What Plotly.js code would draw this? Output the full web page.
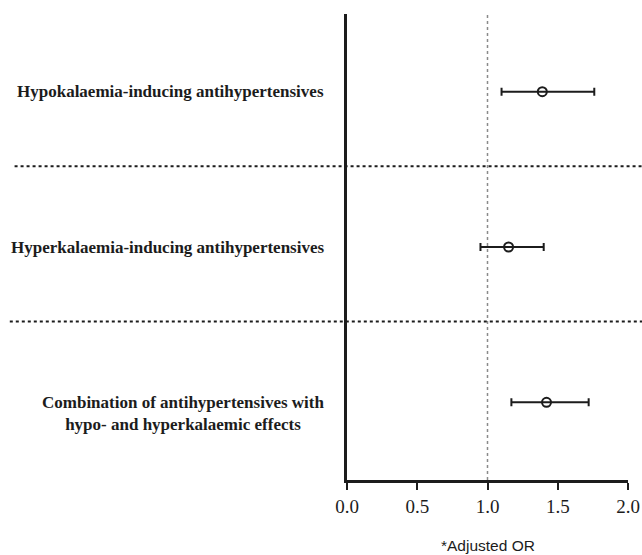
<!DOCTYPE html>
<html>
<head>
<meta charset="utf-8">
<script src="https://cdn.plot.ly/plotly-3.0.1.min.js"></script>
<style>html,body{margin:0;padding:0;background:#fff;}#chart{width:642px;height:555px;}</style>
</head>
<body>
<div id="chart"></div>
<script>
var categories = ["Hypokalaemia-inducing antihypertensives",
                  "Hyperkalaemia-inducing antihypertensives",
                  "Combination of antihypertensives with<br>hypo- and hyperkalaemic effects"];
var rowIndex = [0, 1, 2];
var adjustedOR = [1.39, 1.15, 1.42];
var ciLower = [1.10, 0.95, 1.17];
var ciUpper = [1.76, 1.40, 1.72];
var xTickVals = [0, 0.5, 1.0, 1.5, 2.0];
var xTickText = ["0.0", "0.5", "1.0", "1.5", "2.0"];
var separators = [0.48, 1.48];
var labelShift = [0, 0, -11];

var ink = "#1c1c1c";
var trace = {
  x: adjustedOR,
  y: rowIndex,
  type: "scatter",
  mode: "markers",
  marker: {symbol: "circle-open", size: 9, color: ink, line: {width: 2, color: ink}},
  error_x: {
    type: "data", symmetric: false,
    array: adjustedOR.map(function(v, i){ return ciUpper[i] - v; }),
    arrayminus: adjustedOR.map(function(v, i){ return v - ciLower[i]; }),
    color: ink, thickness: 2, width: 4
  },
  hoverinfo: "x+y",
  showlegend: false
};

var shapes = [{
  type: "line", xref: "x", yref: "paper", x0: 1, x1: 1, y0: 0, y1: 1,
  line: {color: "#8a8a8a", width: 1.5, dash: "dot"}, layer: "below"
}];
separators.forEach(function(s, i){
  shapes.push({
    type: "line", xref: "paper", yref: "y", x0: i === 0 ? -1.183 : -1.2, x1: 1.06, y0: s, y1: s,
    line: {color: ink, width: 2, dash: "dot"}
  });
});

var annotations = categories.map(function(c, i){
  return {
    text: c, xref: "paper", yref: "y", x: 0, y: rowIndex[i],
    xanchor: "right", yanchor: "middle", xshift: -21, yshift: labelShift[i],
    align: "center", showarrow: false,
    font: {family: "Liberation Serif, Times New Roman, serif", size: 17, color: ink, weight: "bold"}
  };
});
annotations.push({
  text: "*Adjusted OR", xref: "paper", yref: "paper", x: 0.5, y: 0,
  xanchor: "center", yanchor: "middle", yshift: -65, showarrow: false,
  font: {family: "Liberation Sans, Arial, sans-serif", size: 15.5, color: ink}
});

var layout = {
  width: 642, height: 555,
  margin: {l: 347, r: 13.5, t: 13.5, b: 75.4, pad: 0},
  paper_bgcolor: "#fff", plot_bgcolor: "#fff",
  xaxis: {
    range: [0, 2], tickvals: xTickVals, ticktext: xTickText,
    showgrid: false, zeroline: false, showline: true, linewidth: 3, linecolor: ink,
    ticks: "outside", ticklen: 7, tickwidth: 2, tickcolor: ink,
    tickfont: {family: "Liberation Serif, Times New Roman, serif", size: 19, color: ink},
    fixedrange: true
  },
  yaxis: {
    range: [2.5, -0.5], showgrid: false, zeroline: false, showline: true, linewidth: 3, linecolor: ink,
    showticklabels: false, ticks: "", fixedrange: true
  },
  shapes: shapes,
  annotations: annotations
};

Plotly.newPlot("chart", [trace], layout, {displayModeBar: false, staticPlot: true});
</script>
</body>
</html>
